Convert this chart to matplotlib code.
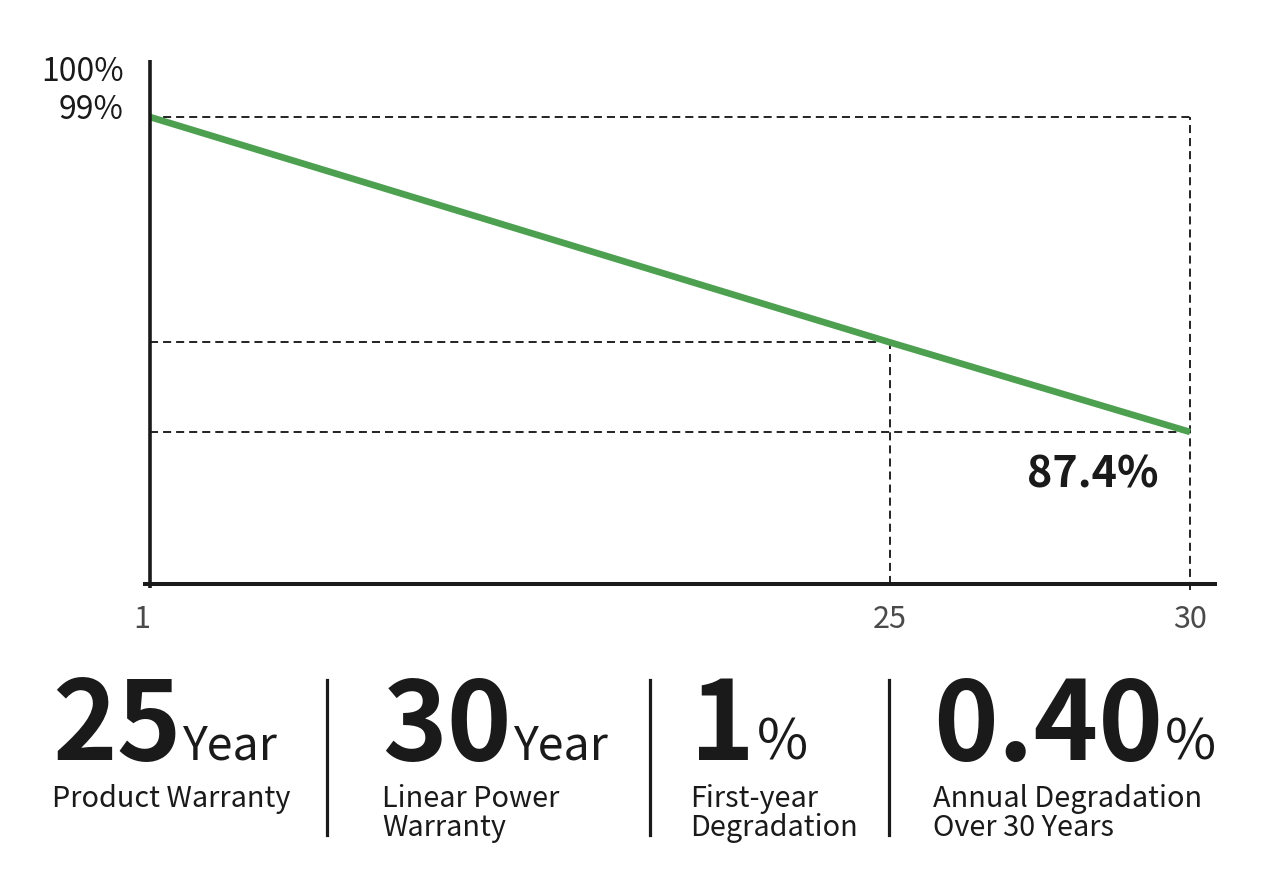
import numpy as np
import matplotlib
matplotlib.use("Agg")
import matplotlib.pyplot as plt
from matplotlib.lines import Line2D

plt.rcParams["font.family"] = ["Noto Sans CJK SC", "DejaVu Sans"]
plt.rcParams["lines.scale_dashes"] = False

# data
years = [1, 25, 30]
power = [99.0, 90.7, 87.4]
x_labels = ["1", "25", "30"]
y_labels = ["100%", "99%"]

stats = ["25", "30", "1", "0.40"]
units = ["Year", "Year", "%", "%"]
captions = [["Product Warranty"],
            ["Linear Power", "Warranty"],
            ["First-year", "Degradation"],
            ["Annual Degradation", "Over 30 Years"]]

W, H = 1266, 882
INK = "#1a1a1a"
GREY = "#4a4a4a"
GREEN = "#4ca050"
DASH = (0, (5.8, 3.6))


def px(x, y):
    """pixel (from top-left) -> figure fraction"""
    return x / W, 1 - y / H


fig = plt.figure(figsize=(W / 100, H / 100), dpi=100)
ax_l, ax_r, ax_t, ax_b = 150, 1217, 60, 584
ax = fig.add_axes([ax_l / W, 1 - ax_b / H, (ax_r - ax_l) / W, (ax_b - ax_t) / H])

# the year axis is not evenly spaced in the original, use a piecewise scale
anchor_yr = [-9, 1, 25, 30, 60]
anchor_px = [-308.3, 0, 740, 1040, 2840]
fwd = lambda v: np.interp(v, anchor_yr, anchor_px)
inv = lambda v: np.interp(v, anchor_px, anchor_yr)
ax.set_xscale("function", functions=(fwd, inv))
ax.set_xlim(1, float(inv(ax_r - ax_l)))
ymin, ymax = 81.80, 101.10
ax.set_ylim(ymin, ymax)

for s in ax.spines.values():
    s.set_visible(False)

# dashed guides
kw = dict(color="#111111", lw=1.3, linestyle=DASH)
ax.hlines(power[0], years[0], years[-1], **kw)
ax.hlines(power[1], years[0], years[1], **kw)
ax.hlines(power[2], years[0], years[2], **kw)
ax.vlines(years[1], ymin, power[1], **kw)
ax.vlines(years[2], ymin - 0.22, power[0], clip_on=False, **kw)

ax.plot(years, power, color=GREEN, lw=4.8, solid_capstyle="butt", zorder=3)

# axis lines
ax.axhline(ymin, xmin=-7 / (ax_r - ax_l), xmax=1, color=INK, lw=2.9,
           clip_on=False, solid_capstyle="butt", zorder=4)
ax.axvline(years[0], ymin=-4 / (ax_b - ax_t), ymax=1, color=INK, lw=2.6,
           clip_on=False, solid_capstyle="butt", zorder=4)

ax.set_xticks(years)
ax.set_xticklabels(x_labels)
ax.tick_params(axis="x", length=0, pad=31.7, labelsize=22, labelcolor=GREY)
for lbl in ax.get_xticklabels():
    lbl.set_va("baseline")
ax.get_xticklabels()[0].set_ha("right")
ax.xaxis.set_minor_locator(matplotlib.ticker.NullLocator())
ax.set_yticks([])

# y labels sit above the 99% guide in the original
ax.text(-26 / (ax_r - ax_l), (ax_b - 81) / (ax_b - ax_t), y_labels[0],
        transform=ax.transAxes, ha="right", va="baseline", fontsize=23,
        fontweight="medium", color=INK)
ax.text(-26 / (ax_r - ax_l), (ax_b - 119) / (ax_b - ax_t), y_labels[1],
        transform=ax.transAxes, ha="right", va="baseline", fontsize=23,
        fontweight="medium", color=INK)

ax.annotate(f"{power[-1]}%", xy=(years[-1], power[-1]), xytext=(-23, -40),
            textcoords="offset points", ha="right", va="baseline",
            fontsize=31, fontweight="bold", color=INK)

# bottom stat blocks
num_x = [52, 382, 690, 933]
unit_size = [33.5, 33.5, 40, 40]
sep_x = [327, 650, 889]
fig.canvas.draw()
rend = fig.canvas.get_renderer()
for i in range(len(stats)):
    t = fig.text(*px(num_x[i], 760), stats[i], fontsize=79, fontweight=900,
                 color=INK, ha="left", va="baseline")
    bb = t.get_window_extent(rend)
    fig.text((bb.x1 + 2) / W, px(0, 760)[1], units[i], fontsize=unit_size[i],
             color=INK, ha="left", va="baseline")
    for j, line in enumerate(captions[i]):
        fig.text(*px(num_x[i], 807 + 29 * j), line, fontsize=20.8, color=INK,
                 ha="left", va="baseline")

for x in sep_x:
    x0, y0 = px(x, 680)
    _, y1 = px(x, 835)
    fig.add_artist(Line2D([x0, x0], [y0, y1], color=INK, lw=2.3))

fig.savefig("out.png", dpi=100, facecolor="white")
